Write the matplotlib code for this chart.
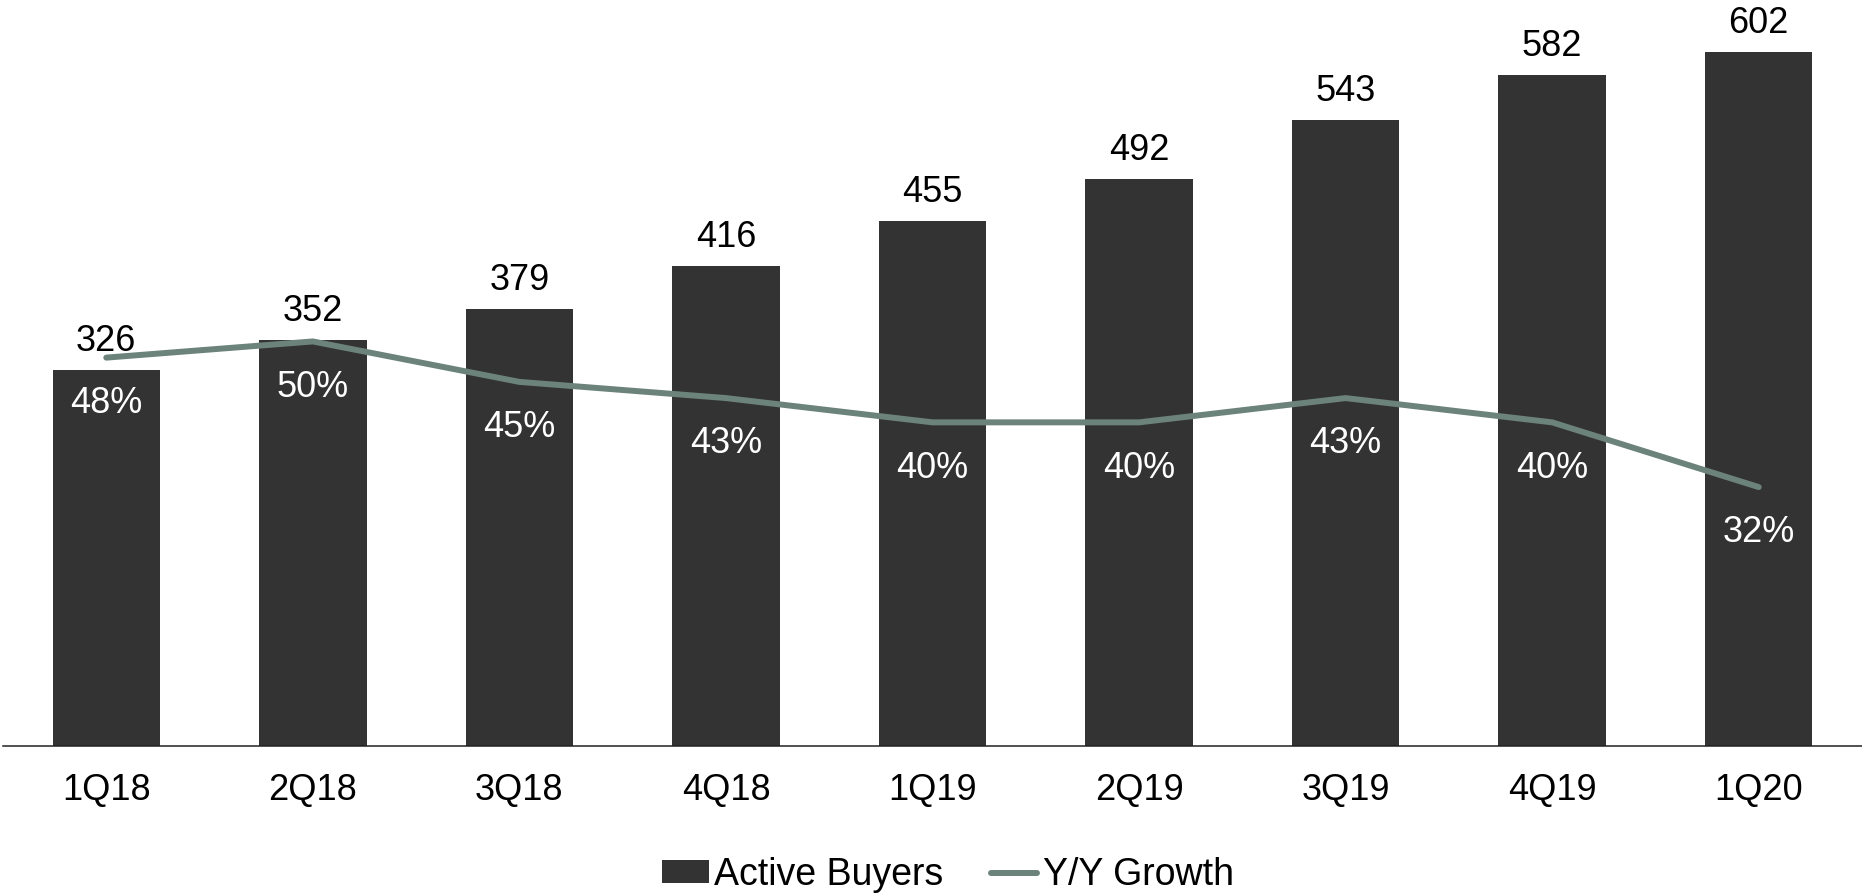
import matplotlib.pyplot as plt

plt.rcParams['font.family'] = ['Liberation Sans', 'DejaVu Sans']

# Active buyers (millions) and year-over-year growth, by quarter
quarters = ['1Q18', '2Q18', '3Q18', '4Q18', '1Q19', '2Q19', '3Q19', '4Q19', '1Q20']
active_buyers = [326, 352, 379, 416, 455, 492, 543, 582, 602]
yoy_growth = [48, 50, 45, 43, 40, 40, 43, 40, 32]

bar_color = '#333333'
line_color = '#6B837A'

fig = plt.figure(figsize=(18.62, 8.94), dpi=100)
ax = fig.add_axes([3 / 1862, 148 / 894, 1859 / 1862, 746 / 894])
x = list(range(len(quarters)))

bars = ax.bar(x, active_buyers, width=0.52, color=bar_color, label='Active Buyers', zorder=2)
ax.set_xlim(-0.5, 8.5)
ax.set_ylim(0, 647)

for xi, v in zip(x, active_buyers):
    ax.annotate(str(v), (xi, v), xytext=(0, 20.5), textcoords='offset points',
                ha='center', va='center', fontsize=26, color='black')

# growth line on its own scale
ax2 = ax.twinx()
ax2.set_ylim(0, 92.2)
line, = ax2.plot(x, yoy_growth, color=line_color, linewidth=4.3, label='Y/Y Growth',
                 solid_capstyle='round', solid_joinstyle='miter', zorder=3)
for xi, g in zip(x, yoy_growth):
    ax2.annotate(f'{g}%', (xi, g), xytext=(0, -33), textcoords='offset points',
                 ha='center', va='center', fontsize=26, color='white')

for a in (ax, ax2):
    for side in ('top', 'right', 'left'):
        a.spines[side].set_visible(False)
    a.set_yticks([])
ax2.spines['bottom'].set_visible(False)
ax.spines['bottom'].set_color('#222222')
ax.spines['bottom'].set_linewidth(1.1)

ax.set_xticks(x)
ax.set_xticklabels(quarters, fontsize=26)
ax.tick_params(axis='x', length=0, pad=19.5)

fig.legend([bars, line], ['Active Buyers', 'Y/Y Growth'], loc='center',
           bbox_to_anchor=(948 / 1862, 19 / 894), ncol=2, frameon=False,
           fontsize=27, handlelength=1.25, handleheight=0.55,
           handletextpad=0.15, columnspacing=1.25, borderpad=0)

fig.savefig('out.png', dpi=100)
